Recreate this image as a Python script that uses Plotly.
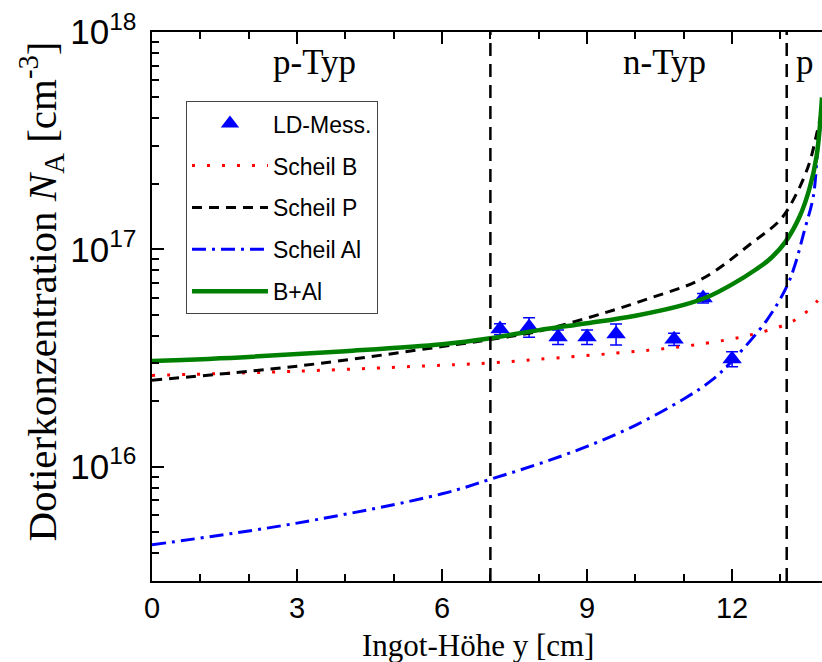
import plotly.graph_objects as go

# ---------------- data ----------------
x_meas = [7.2, 7.8, 8.4, 9.0, 9.6, 10.8, 11.4, 12.0]
y_meas = [4.30e16, 4.39e16, 3.95e16, 3.95e16, 4.08e16, 3.86e16, 5.97e16, 3.13e16]
err_meas = [0.25e16, 0.45e16, 0.3e16, 0.3e16, 0.45e16, 0.25e16, 0.3e16, 0.25e16]

x_b = [0, 3, 6, 7, 8, 9.6, 10.92, 11.88, 12.5, 13.13, 13.46, 13.75, 13.86]
y_b = [2.63e16, 2.75e16, 2.93e16, 3.0e16, 3.12e16, 3.33e16, 3.56e16, 3.83e16, 4.1e16, 4.53e16, 4.99e16, 5.74e16, 6.2e16]

x_p = [0, 3, 6, 7, 7.95, 9.33, 10.3, 11.4, 12.43, 13.0, 13.33, 13.6, 13.75, 13.86]
y_p = [2.5e16, 2.9e16, 3.57e16, 3.85e16, 4.18e16, 5.08e16, 5.96e16, 7.36e16, 1.08e17, 1.37e17, 1.8e17, 2.5e17, 3.4e17, 4.4e17]

x_al = [0, 3, 6, 7, 8, 9, 10, 11, 11.58, 12.02, 12.72, 13.13, 13.3, 13.5, 13.68, 13.78, 13.86]
y_al = [4.37e15, 5.5e15, 7.5e15, 8.75e15, 1.03e16, 1.24e16, 1.55e16, 2.05e16, 2.5e16, 3.1e16,
        4.73e16, 6.73e16, 8.47e16, 1.23e17, 1.75e17, 3.07e17, 4.3e17]

x_g = [0, 2, 4, 6, 7, 8, 9, 10, 11, 11.5, 12, 12.5, 12.8, 13.1, 13.4, 13.6, 13.75, 13.86]
y_g = [3.06e16, 3.2e16, 3.4e16, 3.66e16, 3.9e16, 4.25e16, 4.57e16, 4.95e16, 5.55e16, 6.05e16,
       6.9e16, 8.1e16, 9.1e16, 1.08e17, 1.42e17, 1.9e17, 2.7e17, 5.0e17]

boundaries = [7.0, 13.13]
region_labels = ["p-Typ", "n-Typ", "p"]
region_label_x = [3.37, 10.6, 13.5]

x_range = [0, 13.86]
y_range_log = [15.474, 18]

SERIF = "Liberation Serif, Times New Roman, serif"
SANS = "Liberation Sans, Arial, sans-serif"

fig = go.Figure()

fig.add_trace(go.Scatter(
    x=x_meas, y=y_meas, mode="markers", name="LD-Mess.", legendgroup="a",
    marker=dict(symbol="triangle-up", size=17, color="#0000ff"),
    error_y=dict(type="data", array=err_meas, color="#0000ff", thickness=1.5, width=6),
))
fig.add_trace(go.Scatter(
    x=x_b, y=y_b, mode="lines", name="Scheil B", legendgroup="b",
    line=dict(color="#ff0000", width=3, dash="3px,12px", shape="spline"),
))
fig.add_trace(go.Scatter(
    x=x_p, y=y_p, mode="lines", name="Scheil P", legendgroup="c",
    line=dict(color="black", width=3, dash="10px,7px", shape="spline"),
))
fig.add_trace(go.Scatter(
    x=x_al, y=y_al, mode="lines", name="Scheil Al", legendgroup="d",
    line=dict(color="#0000ff", width=3, dash="14px,6px,3px,6px", shape="spline"),
))
fig.add_trace(go.Scatter(
    x=x_g, y=y_g, mode="lines", name="B+Al", legendgroup="e",
    line=dict(color="#008000", width=4.5, shape="spline"),
))

for b in boundaries:
    fig.add_shape(type="line", xref="x", yref="paper", x0=b, x1=b, y0=0, y1=1,
                  line=dict(color="black", width=2.5, dash="13px,8px"))

for lab, lx in zip(region_labels, region_label_x):
    fig.add_annotation(x=lx, xref="x", y=0.945, yref="paper", text=lab, showarrow=False,
                       font=dict(family=SERIF, size=35, color="black"),
                       xanchor="center", yanchor="middle")

# axis titles
fig.add_annotation(x=0.487, xref="paper", y=-0.118, yref="paper",
                   text="Ingot-Höhe y [cm]", showarrow=False,
                   font=dict(family=SERIF, size=31, color="black"),
                   xanchor="center", yanchor="middle")
fig.add_annotation(x=-0.165, xref="paper", y=0.528, yref="paper",
                   text="Dotierkonzentration <i>N</i><sub>A</sub> [cm<sup>-3</sup>]",
                   showarrow=False, textangle=-90,
                   font=dict(family=SERIF, size=41, color="black"),
                   xanchor="center", yanchor="middle")

fig.update_xaxes(
    range=x_range, showline=True, linecolor="black", linewidth=2, mirror="ticks",
    ticks="inside", ticklen=12, tickwidth=2, tickcolor="black", tick0=0, dtick=3,
    minor=dict(dtick=1, ticks="inside", ticklen=7, tickwidth=2, tickcolor="black", showgrid=False),
    showgrid=False, zeroline=False,
    tickfont=dict(family=SANS, size=29, color="black"),
    ticklabelstandoff=0,
)
fig.update_yaxes(
    type="log", range=y_range_log, showline=True, linecolor="black", linewidth=2, mirror=False,
    ticks="inside", ticklen=12, tickwidth=2, tickcolor="black", dtick=1,
    exponentformat="power", showexponent="all",
    minor=dict(dtick="D1", ticks="inside", ticklen=7, tickwidth=2, tickcolor="black", showgrid=False),
    showgrid=False, zeroline=False,
    tickfont=dict(family=SANS, size=28, color="black"),
    ticklabelstandoff=8,
)

fig.update_layout(
    width=822, height=662,
    margin=dict(l=152, r=0, t=32, b=81),
    paper_bgcolor="white", plot_bgcolor="white",
    showlegend=True,
    legend=dict(
        x=0.0507, y=0.874, xanchor="left", yanchor="top",
        bgcolor="white", bordercolor="#444444", borderwidth=1,
        font=dict(family=SANS, size=23, color="black"),
        tracegroupgap=9, itemwidth=76,
    ),
)

fig.write_html("out.html")
